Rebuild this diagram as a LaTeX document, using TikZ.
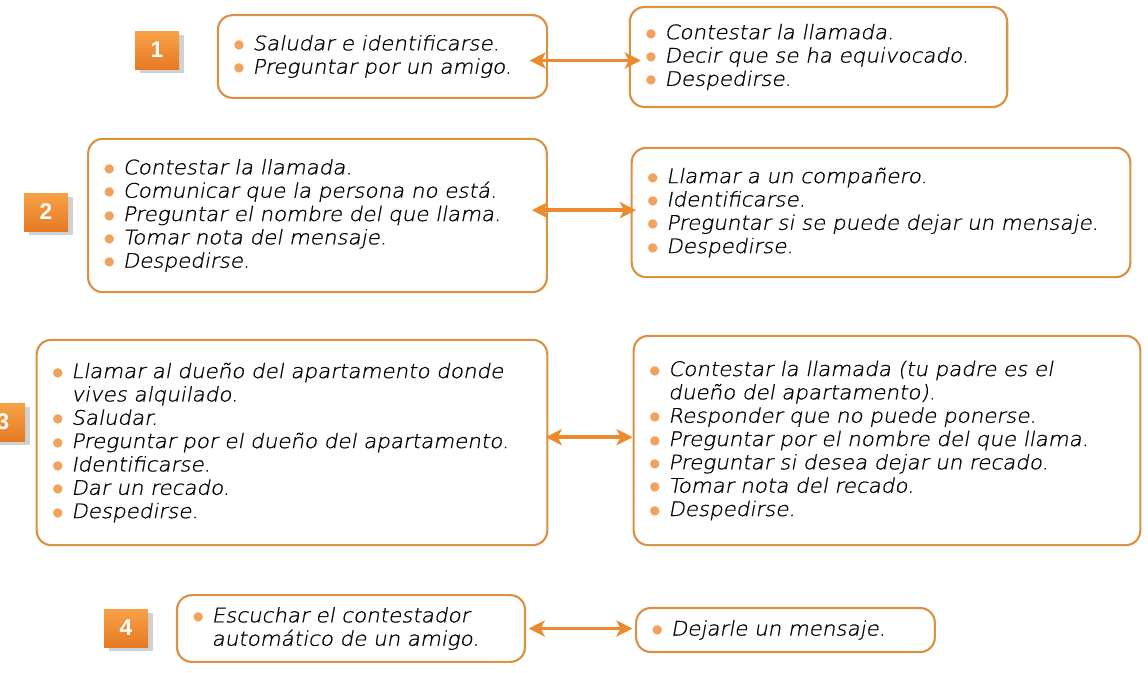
\documentclass[tikz,border=0pt]{standalone}
\usepackage{fontspec}
\usepackage{graphicx}
\setmainfont{DejaVu Sans}
\newfontfamily\handfont{DejaVu Sans ExtraLight}[FakeSlant=0.18, FakeStretch=1.07, FakeBold=0.8]
\newfontfamily\tagfont{Liberation Sans}
\usetikzlibrary{positioning, arrows.meta, shadows}
\definecolor{EDUorange}{RGB}{236, 138, 45}
\definecolor{EDUline}{RGB}{218, 145, 66}
\definecolor{EDUdot}{RGB}{242, 162, 92}
\definecolor{EDUtop}{RGB}{247, 162, 72}
\definecolor{EDUbot}{RGB}{232, 122, 36}
\newcommand{\bul}{\makebox[14pt][l]{\normalfont\raisebox{1.5pt}{\textcolor{EDUdot}{\fontsize{9}{9}\selectfont ●}}}}
\newcommand{\cnt}{\hspace*{14pt}}
\tikzset{
  card/.style={rectangle, rounded corners=11pt, draw=EDUline, line width=1.6pt, fill=white,
    align=left, inner xsep=12pt, inner ysep=4pt,
    font=\handfont\fontsize{15}{17.5}\selectfont},
  tag/.style={rectangle, top color=EDUtop, bottom color=EDUbot, text=white,
    minimum width=33pt, minimum height=28.5pt, font=\tagfont\bfseries\fontsize{17}{17}\selectfont,
    drop shadow={shadow xshift=4pt, shadow yshift=-3pt, fill=black!40, opacity=0.45}},
  link/.style={{Stealth[length=12pt, width=12pt, inset=3pt]}-{Stealth[length=12pt, width=12pt, inset=3pt]},
    line width=2.8pt, EDUorange},
}

\begin{document}
\begin{tikzpicture}[x=0.75pt, y=-0.75pt]
  \useasboundingbox[fill=white] (0,0) rectangle (1148,672);
  % 1
  \node[tag] (n1) at (157,50) {1};
  \node[card, text width=223pt, minimum height=62pt] (b1L) at (382.5,56.5)
    {\bul Saludar e identificarse.\\ \bul Preguntar por un amigo.};
  \node[card, text width=259pt, minimum height=75pt] (b1R) at (818.5,57)
    {\bul Contestar la llamada.\\ \bul Decir que se ha equivocado.\\ \bul Despedirse.};
  \coordinate (a1) at ([yshift=-3pt]b1L.east);
  \draw[link, shorten <=-14pt, shorten >=-9pt] (a1) -- (a1 -| b1R.west);
  % 2
  \node[tag] (n2) at (46,212) {2};
  \node[card, text width=320pt, minimum height=115pt] (b2L) at (317.5,215.5)
    {\bul Contestar la llamada.\\ \bul Comunicar que la persona no está.\\
     \bul Preguntar el nombre del que llama.\\ \bul Tomar nota del mensaje.\\ \bul Despedirse.};
  \node[card, text width=350pt, minimum height=97pt] (b2R) at (881,212.5)
    {\bul Llamar a un compañero.\\ \bul Identificarse.\\
     \bul \mbox{Preguntar si se puede dejar un mensaje.}\\ \bul Despedirse.};
  \coordinate (a2) at ([yshift=4pt]b2L.east);
  \draw[link, shorten <=-12pt, shorten >=-4pt] (a2) -- (a2 -| b2R.west);
  % 3
  \node[tag] (n3) at (3,422) {3};
  \node[card, text width=359pt, minimum height=154pt] (b3L) at (292,442.5)
    {\bul Llamar al dueño del apartamento donde\\ \cnt vives alquilado.\\ \bul Saludar.\\
     \bul \mbox{Preguntar por el dueño del apartamento.}\\ \bul Identificarse.\\
     \bul Dar un recado.\\ \bul Despedirse.};
  \node[card, text width=356pt, minimum height=157pt] (b3R) at (887,440.5)
    {\bul Contestar la llamada (tu padre es el\\ \cnt dueño del apartamento).\\
     \bul Responder que no puede ponerse.\\ \bul \mbox{Preguntar por el nombre del que llama.}\\
     \bul Preguntar si desea dejar un recado.\\ \bul Tomar nota del recado.\\ \bul Despedirse.};
  \coordinate (a3) at ([yshift=4pt]b3L.east);
  \draw[link, shorten <=-2pt] (a3) -- (a3 -| b3R.west);
  % 4
  \node[tag] (n4) at (126,628) {4};
  \node[card, text width=237pt, minimum height=50pt] (b4L) at (351,628.5)
    {\bul Escuchar el contestador\\ \cnt automático de un amigo.};
  \node[card, text width=200pt, minimum height=33pt] (b4R) at (785.5,630)
    {\bul Dejarle un mensaje.};
  \coordinate (a4) at (b4L.east);
  \draw[link, shorten <=2pt, shorten >=2pt] (a4) -- (a4 -| b4R.west);
\end{tikzpicture}
\end{document}
